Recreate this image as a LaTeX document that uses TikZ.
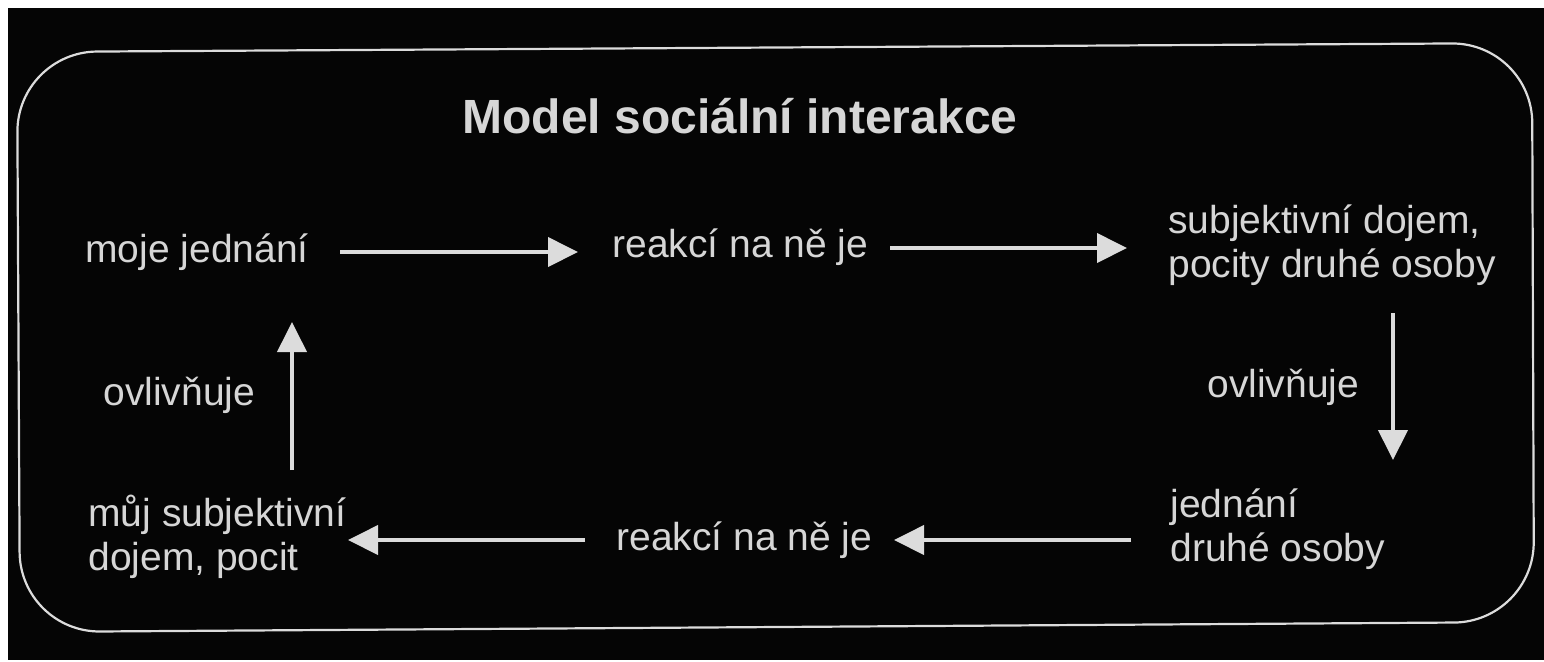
\documentclass[tikz,border=0pt]{standalone}
\usepackage{fontspec}
\setmainfont{Liberation Sans}
\usetikzlibrary{arrows.meta}
\definecolor{bg}{HTML}{050505}
\definecolor{txt}{HTML}{D6D6D6}
\definecolor{ln}{HTML}{DCDCDC}
\tikzset{
  lbl/.style={text=txt, inner sep=0pt, anchor=base west, align=left,
    font=\fontsize{19.5}{22}\selectfont},
  ttl/.style={text=txt, inner sep=0pt, anchor=base,
    font=\fontsize{24}{28}\selectfont\bfseries},
  arr/.style={draw=ln, line width=2pt, -{Triangle[length=15pt,width=14.5pt]}},
  frame/.style={draw=ln, line width=1.1pt, rounded corners=40pt}
}
\begin{document}
\begin{tikzpicture}[x=0.5pt,y=-0.5pt]
\useasboundingbox (0,0) rectangle (1544,661);
\fill[white] (0,0) rectangle (1544,661);
\fill[bg] (8,8) rectangle (1544,660);
\draw[frame] (17,52) -- (1532,43) -- (1534,622) -- (20,632) -- cycle;

\node[ttl] (title) at (740,133) {Model sociální interakce};

\node[lbl] (moje) at (85,262) {moje jednání};
\node[lbl] (reak1) at (612,257) {reakcí na ně je};
\node[lbl] (subj) at (1168,277) {subjektivní dojem,\\pocity druhé osoby};
\node[lbl] (ovl2) at (1207,397) {ovlivňuje};
\node[lbl] (jedn) at (1170,561) {jednání\\druhé osoby};
\node[lbl] (reak2) at (616,550) {reakcí na ně je};
\node[lbl] (muj) at (88,570) {můj subjektivní\\dojem, pocit};
\node[lbl] (ovl1) at (103,405) {ovlivňuje};

\coordinate (a1s) at (340,252);
\coordinate (a1e) at (578,252);
\coordinate (a2s) at (890,248);
\coordinate (a2e) at (1127,248);
\coordinate (a3s) at (1393,313);
\coordinate (a3e) at (1393,460);
\coordinate (a4s) at (1131,540);
\coordinate (a4e) at (894,540);
\coordinate (a5s) at (585,540);
\coordinate (a5e) at (348,540);
\coordinate (a6s) at (292,470);
\coordinate (a6e) at (292,322);

\draw[arr] (a1s) -- (a1e);
\draw[arr] (a2s) -- (a2e);
\draw[arr] (a3s) -- (a3e);
\draw[arr] (a4s) -- (a4e);
\draw[arr] (a5s) -- (a5e);
\draw[arr] (a6s) -- (a6e);
\end{tikzpicture}
\end{document}
